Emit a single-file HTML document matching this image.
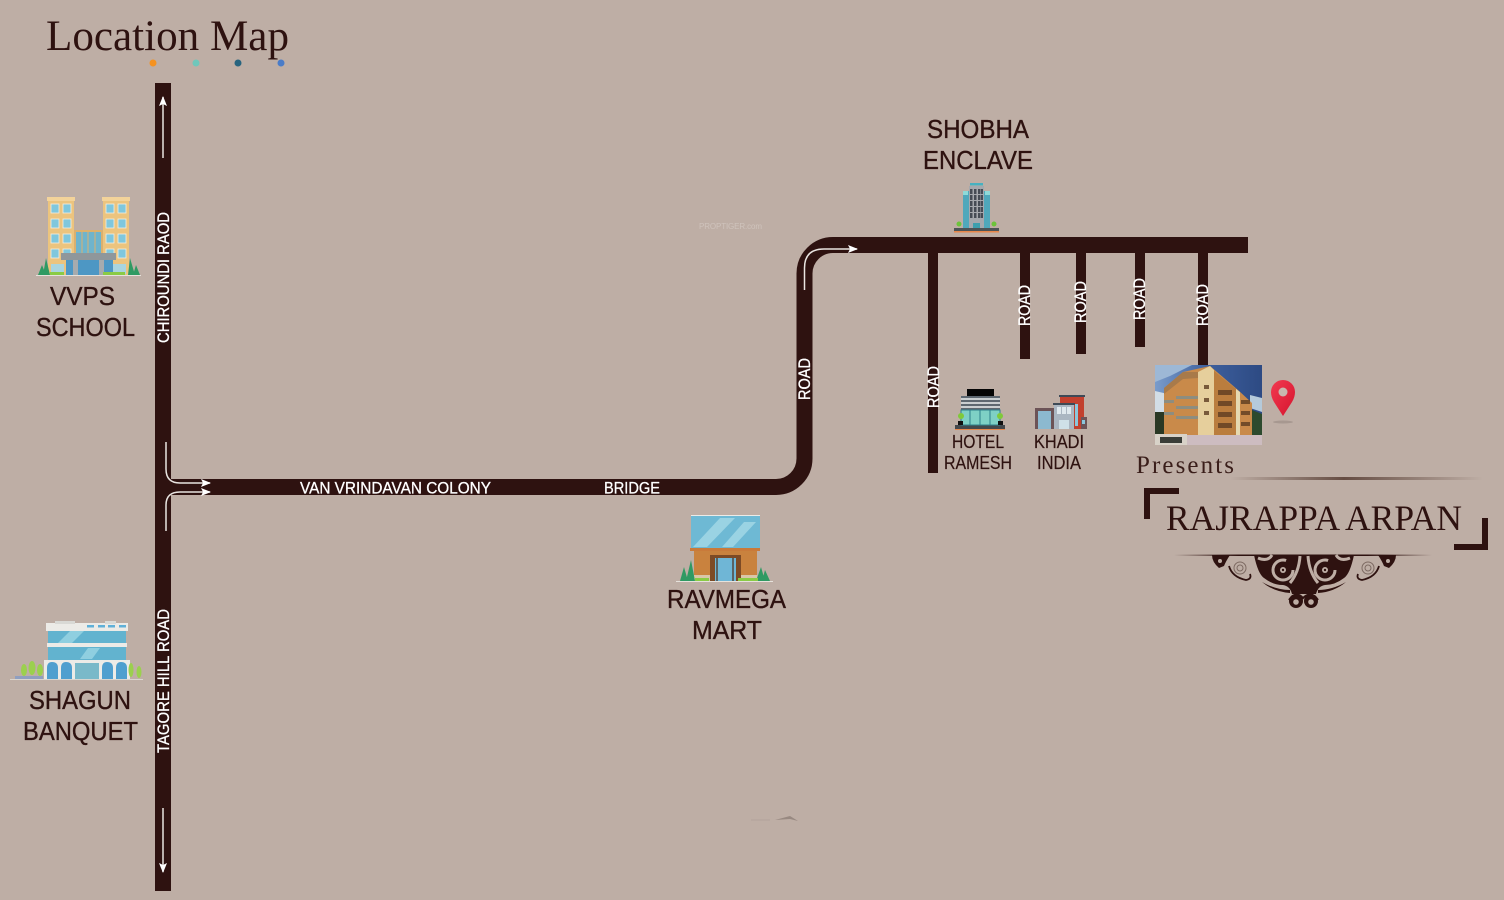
<!DOCTYPE html>
<html>
<head>
<meta charset="utf-8">
<title>Location Map</title>
<style>
html,body{margin:0;padding:0;background:#beaea5;}
svg{display:block;}
.l{font-family:"Liberation Sans",sans-serif;fill:#2e1210;stroke:#2e1210;stroke-width:.35px;}
.r{font-family:"Liberation Sans",sans-serif;fill:#fff;stroke:#fff;stroke-width:.3px;font-size:16.5px;}
.s{font-family:"Liberation Serif",serif;fill:#2e1210;}
</style>
</head>
<body>
<svg width="1504" height="900" viewBox="0 0 1504 900" xmlns="http://www.w3.org/2000/svg">
<defs>
<linearGradient id="fl" x1="0" x2="1" y1="0" y2="0">
<stop offset="0" stop-color="#5c4238" stop-opacity="0"/>
<stop offset=".45" stop-color="#5c4238" stop-opacity=".9"/>
<stop offset="1" stop-color="#5c4238" stop-opacity="0"/>
</linearGradient>
<linearGradient id="fd" x1="0" x2="1" y1="0" y2="0">
<stop offset="0" stop-color="#2e1210" stop-opacity="0"/>
<stop offset=".25" stop-color="#2e1210"/>
<stop offset=".75" stop-color="#2e1210"/>
<stop offset="1" stop-color="#2e1210" stop-opacity="0"/>
</linearGradient>
<linearGradient id="sky" x1="0" x2="1" y1="0" y2="0">
<stop offset="0" stop-color="#7a9ccb"/>
<stop offset=".5" stop-color="#3d5f9d"/>
<stop offset="1" stop-color="#2d4a83"/>
</linearGradient>
<linearGradient id="pin" x1="0" x2="1" y1="0" y2="1">
<stop offset="0" stop-color="#f23a50"/>
<stop offset="1" stop-color="#d5142e"/>
</linearGradient>
<marker id="ah" markerWidth="12" markerHeight="10" refX="9" refY="4" orient="auto" markerUnits="userSpaceOnUse"><path d="M0 0L10 4L0 8L2 4Z" fill="#fff"/></marker>
</defs>

<rect width="1504" height="900" fill="#beaea5"/>

<!-- Title -->
<text class="s" x="46" y="50" font-size="43" textLength="243" lengthAdjust="spacingAndGlyphs">Location Map</text>
<circle cx="153" cy="63" r="3.500" fill="#f59220"/>
<circle cx="196" cy="63" r="3.500" fill="#6fc7bb"/>
<circle cx="238" cy="63" r="3.500" fill="#27647f"/>
<circle cx="281" cy="63" r="3.500" fill="#4a7cc8"/>

<!-- Roads -->
<rect x="155" y="83" width="16" height="808" fill="#2e1210"/>
<path d="M165 487H776A28.500 28.500 0 0 0 804.500 458.500V273.500A28.500 28.500 0 0 1 833 245H1248" fill="none" stroke="#2e1210" stroke-width="16"/>
<rect x="928" y="250" width="10" height="223" fill="#2e1210"/>
<rect x="1020" y="250" width="10" height="109" fill="#2e1210"/>
<rect x="1076" y="250" width="10" height="104" fill="#2e1210"/>
<rect x="1135" y="250" width="10" height="97" fill="#2e1210"/>
<rect x="1198" y="250" width="10" height="115" fill="#2e1210"/>

<!-- Arrows -->
<g fill="none" stroke="#e9e4e0" stroke-width="1.500">
<path d="M163 158V97" marker-end="url(#ah)"/>
<path d="M163 808V872" marker-end="url(#ah)"/>
<path d="M166 442V469Q166 483 180 483H210" marker-end="url(#ah)"/>
<path d="M166 531V505Q166 492 180 492H210" marker-end="url(#ah)"/>
<path d="M804.500 290V268Q804.500 249 824 249H857" marker-end="url(#ah)"/>
</g>

<!-- Road labels -->
<text class="r" transform="translate(169 343) rotate(-90)" textLength="131" lengthAdjust="spacingAndGlyphs">CHIROUNDI RAOD</text>
<text class="r" transform="translate(169 753) rotate(-90)" textLength="144" lengthAdjust="spacingAndGlyphs">TAGORE HILL ROAD</text>
<text class="r" transform="translate(810 400) rotate(-90)" textLength="42" lengthAdjust="spacingAndGlyphs">ROAD</text>
<text class="r" transform="translate(939 408) rotate(-90)" textLength="42" lengthAdjust="spacingAndGlyphs">ROAD</text>
<text class="r" transform="translate(1030 326) rotate(-90)" textLength="41" lengthAdjust="spacingAndGlyphs">ROAD</text>
<text class="r" transform="translate(1086 323) rotate(-90)" textLength="42" lengthAdjust="spacingAndGlyphs">ROAD</text>
<text class="r" transform="translate(1145 320) rotate(-90)" textLength="42" lengthAdjust="spacingAndGlyphs">ROAD</text>
<text class="r" transform="translate(1208 326) rotate(-90)" textLength="42" lengthAdjust="spacingAndGlyphs">ROAD</text>
<text class="r" x="300" y="493.500" textLength="191" lengthAdjust="spacingAndGlyphs">VAN VRINDAVAN COLONY</text>
<text class="r" x="604" y="493.500" textLength="56" lengthAdjust="spacingAndGlyphs">BRIDGE</text>

<!-- Place labels -->
<text class="l" x="50" y="305" font-size="26" textLength="65" lengthAdjust="spacingAndGlyphs">VVPS</text>
<text class="l" x="36" y="336" font-size="26" textLength="99" lengthAdjust="spacingAndGlyphs">SCHOOL</text>
<text class="l" x="29" y="709" font-size="26" textLength="102" lengthAdjust="spacingAndGlyphs">SHAGUN</text>
<text class="l" x="23" y="740" font-size="26" textLength="115" lengthAdjust="spacingAndGlyphs">BANQUET</text>
<text class="l" x="667" y="608" font-size="26" textLength="119" lengthAdjust="spacingAndGlyphs">RAVMEGA</text>
<text class="l" x="692" y="639" font-size="26" textLength="70" lengthAdjust="spacingAndGlyphs">MART</text>
<text class="l" x="927" y="138" font-size="26" textLength="102" lengthAdjust="spacingAndGlyphs">SHOBHA</text>
<text class="l" x="923" y="169" font-size="26" textLength="110" lengthAdjust="spacingAndGlyphs">ENCLAVE</text>
<text class="l" x="952" y="448" font-size="18" style="stroke-width:.2px" textLength="52" lengthAdjust="spacingAndGlyphs">HOTEL</text>
<text class="l" x="944" y="469" font-size="18" style="stroke-width:.2px" textLength="68" lengthAdjust="spacingAndGlyphs">RAMESH</text>
<text class="l" x="1034" y="448" font-size="18" style="stroke-width:.2px" textLength="50" lengthAdjust="spacingAndGlyphs">KHADI</text>
<text class="l" x="1037" y="469" font-size="18" style="stroke-width:.2px" textLength="44" lengthAdjust="spacingAndGlyphs">INDIA</text>

<!-- VVPS building -->
<g>
<rect x="36" y="275" width="105" height="1" fill="#e6e2dc"/>
<rect x="48" y="200" width="26" height="75" fill="#ecc47e"/>
<rect x="103" y="200" width="26" height="75" fill="#ecc47e"/>
<rect x="47" y="197" width="28" height="4" fill="#f3d39a"/>
<rect x="102" y="197" width="28" height="4" fill="#f3d39a"/>
<rect x="74" y="230" width="29" height="45" fill="#dcb06e"/>
<rect x="76" y="232" width="25" height="22" fill="#6fb4cc"/>
<g fill="#7fc7dd" stroke="#f3eee0" stroke-width=".8">
<rect x="51" y="204" width="8" height="9"/><rect x="63" y="204" width="8" height="9"/>
<rect x="51" y="219" width="8" height="9"/><rect x="63" y="219" width="8" height="9"/>
<rect x="51" y="234" width="8" height="9"/><rect x="63" y="234" width="8" height="9"/>
<rect x="51" y="249" width="8" height="9"/><rect x="63" y="249" width="8" height="9"/>
<rect x="106" y="204" width="8" height="9"/><rect x="118" y="204" width="8" height="9"/>
<rect x="106" y="219" width="8" height="9"/><rect x="118" y="219" width="8" height="9"/>
<rect x="106" y="234" width="8" height="9"/><rect x="118" y="234" width="8" height="9"/>
<rect x="106" y="249" width="8" height="9"/><rect x="118" y="249" width="8" height="9"/>
</g>
<g stroke="#dcb06e" stroke-width="1"><path d="M82 232V254M88 232V254M95 232V254"/></g>
<rect x="51" y="264" width="13" height="10" fill="#a9d5df"/>
<rect x="113" y="264" width="13" height="10" fill="#a9d5df"/>
<rect x="61" y="253" width="55" height="7" fill="#8f979b"/>
<rect x="66" y="260" width="47" height="15" fill="#4d97c4"/>
<rect x="73" y="260" width="5" height="15" fill="#a6abae"/>
<rect x="99" y="260" width="5" height="15" fill="#a6abae"/>
<path d="M38 275L42 265L46 275ZM43 275L46 258L50 275ZM128 275L130 258L135 275ZM133 275L136 265L140 275Z" fill="#2f9a63"/>
<rect x="50" y="272" width="14" height="3" fill="#8acb45"/>
<rect x="103" y="272" width="22" height="3" fill="#8acb45"/>
</g>

<!-- Shagun building -->
<g>
<rect x="10" y="679" width="133" height="1" fill="#d9d5cf"/>
<rect x="46" y="623" width="82" height="8" fill="#ecebe7"/>
<rect x="55" y="621" width="20" height="3" fill="#d9d9d5"/>
<rect x="105" y="621" width="11" height="3" fill="#d9d9d5"/>
<g fill="#5fb0d8"><rect x="87" y="625" width="7" height="2.500"/><rect x="98" y="625" width="7" height="2.500"/><rect x="108" y="625" width="7" height="2.500"/><rect x="119" y="625" width="7" height="2.500"/></g>
<rect x="48" y="631" width="78" height="48" fill="#62b3cf"/>
<path d="M58 643L70 631H84L72 643ZM80 659L88 648H100L92 659Z" fill="#8fcfe0"/>
<rect x="47" y="643" width="80" height="4" fill="#ecebe7"/>
<rect x="44" y="660" width="86" height="19" fill="#ecebe7"/>
<g fill="#4f9fcf">
<path d="M47 679V668Q47 662 52 662Q58 662 58 668V679Z"/>
<path d="M61 679V668Q61 662 66 662Q72 662 72 668V679Z"/>
<rect x="75" y="663" width="24" height="16" fill="#7ab9c9"/>
<path d="M102 679V668Q102 662 107 662Q113 662 113 668V679Z"/>
<path d="M116 679V668Q116 662 121 662Q127 662 127 668V679Z"/>
</g>
<g fill="#9bd04e">
<ellipse cx="24" cy="670" rx="3" ry="6"/><ellipse cx="32" cy="668" rx="3.500" ry="7"/><ellipse cx="40" cy="670" rx="3" ry="6"/><ellipse cx="131" cy="670" rx="2.500" ry="7"/><ellipse cx="139" cy="672" rx="2.500" ry="6"/>
</g>
<rect x="15" y="676" width="28" height="3" fill="#8f9fc0"/>
</g>

<!-- Ravmega building -->
<g>
<rect x="676" y="581" width="97" height="1" fill="#e6e2dc"/>
<rect x="691" y="516" width="69" height="32" fill="#6eb9d4"/>
<rect x="691" y="515" width="69" height="1" fill="#ecebe7"/>
<path d="M693 547L720 518H735L707 547ZM722 547L744 522H756L733 547Z" fill="#9ad3e3"/>
<rect x="690" y="548" width="70" height="3" fill="#c97a3a"/>
<rect x="694" y="551" width="63" height="30" fill="#c9823e"/>
<rect x="710" y="555" width="31" height="26" fill="#7d4a25"/>
<rect x="715" y="558" width="21" height="23" fill="#6fb6d6"/>
<path d="M717 558V581M733 558V581" stroke="#4a2c1a" stroke-width="1.200"/>
<rect x="694" y="575" width="16" height="6" fill="#d9c6a8"/>
<rect x="741" y="575" width="16" height="6" fill="#d9c6a8"/>
<path d="M680 581L684 567L688 581ZM686 581L691 560L695 581ZM756 581L761 567L765 581ZM762 581L765 570L770 581Z" fill="#2f9a63"/>
<rect x="695" y="578" width="14" height="3" fill="#8acb45"/>
<rect x="738" y="578" width="20" height="3" fill="#8acb45"/>
</g>

<!-- Shobha tower -->
<g>
<rect x="954" y="228" width="45" height="3" fill="#4d5457"/>
<rect x="954" y="231" width="45" height="1.500" fill="#e8874a"/>
<rect x="963" y="191" width="27" height="37" fill="#4fa8bb"/>
<rect x="963" y="191" width="5" height="4" fill="#8edad8"/>
<rect x="985" y="191" width="5" height="4" fill="#8edad8"/>
<rect x="969" y="186" width="15" height="42" fill="#a5a8ad"/>
<rect x="970" y="183" width="13" height="2.500" fill="#46b1c1"/>
<g fill="#464c55"><rect x="970" y="189" width="2.500" height="29"/><rect x="974" y="189" width="2.500" height="29"/><rect x="978" y="189" width="2.500" height="29"/><rect x="981" y="189" width="2" height="29"/></g>
<g fill="#a5a8ad"><rect x="970" y="194" width="13" height="1"/><rect x="970" y="200" width="13" height="1"/><rect x="970" y="206" width="13" height="1"/><rect x="970" y="212" width="13" height="1"/></g>
<rect x="973" y="223" width="7" height="5" fill="#3d9fae"/>
<circle cx="959" cy="224" r="2.500" fill="#6cc43a"/>
<circle cx="994" cy="224" r="2.500" fill="#6cc43a"/>
</g>

<!-- Hotel -->
<g>
<rect x="955" y="425" width="50" height="4" fill="#43484c"/>
<rect x="955" y="429" width="50" height="1" fill="#e8874a"/>
<rect x="967" y="389" width="27" height="7" fill="#050505"/>
<rect x="961" y="396" width="39" height="14" fill="#5d6770"/>
<g fill="#c9ced0"><rect x="961" y="398" width="39" height="2"/><rect x="961" y="402" width="39" height="2"/><rect x="961" y="406" width="39" height="2"/></g>
<rect x="961" y="410" width="39" height="15" fill="#7ed0c5" stroke="#2f7f8c"/>
<path d="M970 410V425M980 410V425M990 410V425" stroke="#2f7f8c"/>
<rect x="958" y="421" width="5" height="4" fill="#111"/><rect x="998" y="421" width="5" height="4" fill="#111"/>
<circle cx="961" cy="416" r="3" fill="#7fc93a"/><circle cx="1000" cy="416" r="3" fill="#7fc93a"/>
</g>

<!-- Khadi -->
<g>
<rect x="1035" y="408" width="19" height="21" fill="#6c5357"/>
<rect x="1038" y="411" width="13" height="18" fill="#8cb9d0"/>
<rect x="1060" y="396" width="24" height="33" fill="#c2402e"/>
<rect x="1059" y="395" width="26" height="2" fill="#3e4a57"/>
<rect x="1075" y="404" width="3" height="22" fill="#8cc6dc"/>
<rect x="1054" y="405" width="20" height="24" fill="#aab6c2"/>
<rect x="1053" y="403" width="22" height="2" fill="#3e4a57"/>
<g fill="#dfe8ee"><rect x="1057" y="407" width="4" height="7"/><rect x="1062" y="407" width="4" height="7"/><rect x="1067" y="407" width="4" height="7"/></g>
<rect x="1059" y="420" width="10" height="9" fill="#cfe0e8"/>
<rect x="1081" y="417" width="6" height="12" fill="#6c5357"/>
<rect x="1082" y="420" width="3" height="4" fill="#8cc6dc"/>
</g>

<!-- Photo -->
<g>
<rect x="1155" y="365" width="107" height="80" fill="url(#sky)"/>
<path d="M1155 365H1192L1170 376L1155 382Z" fill="#9db8d6"/>
<path d="M1155 391L1168 394V420H1155Z" fill="#d2dde6"/>
<path d="M1250 395L1262 398V412L1250 408Z" fill="#b5cadb"/>
<path d="M1155 412L1166 412L1166 440H1155Z" fill="#2a3824"/>
<path d="M1248 430L1252 410L1262 414V439H1248Z" fill="#2d4a2e"/>
<path d="M1164 388L1183 372L1210 366L1238 390L1252 403L1252 436H1164Z" fill="#c98a4a"/>
<path d="M1198 372L1210 366L1214 370V436H1198Z" fill="#e6cf9c"/>
<path d="M1236 389L1240 392V436H1236Z" fill="#e6d9b0"/>
<path d="M1214 371L1236 389V436H1214Z" fill="#ba7d3e"/>
<path d="M1164 388L1183 372L1198 372V378L1183 379L1164 394Z" fill="#a87a4a"/>
<g fill="#8d8d80"><rect x="1176" y="396" width="22" height="3"/><rect x="1176" y="406" width="22" height="3"/><rect x="1176" y="416" width="22" height="3"/><rect x="1164" y="400" width="10" height="3"/><rect x="1164" y="412" width="10" height="3"/></g>
<g fill="#5e3d22" opacity=".8"><rect x="1218" y="390" width="14" height="5"/><rect x="1218" y="401" width="14" height="5"/><rect x="1218" y="412" width="14" height="5"/><rect x="1218" y="423" width="14" height="5"/><rect x="1241" y="400" width="9" height="4"/><rect x="1241" y="411" width="9" height="4"/><rect x="1241" y="422" width="9" height="4"/><rect x="1204" y="385" width="5" height="4"/><rect x="1204" y="398" width="5" height="4"/><rect x="1204" y="411" width="5" height="4"/></g>
<rect x="1155" y="435" width="107" height="10" fill="#cdbcc0"/>
<rect x="1155" y="434" width="32" height="11" fill="#d8d2c8"/>
<rect x="1160" y="437" width="22" height="6" fill="#3a3d38"/>
</g>

<!-- Pin -->
<ellipse cx="1283" cy="422" rx="10" ry="1.500" fill="#9d8f88" opacity=".7"/>
<path d="M1283 416L1274 402Q1271 397 1271 392A12 12 0 0 1 1295 392Q1295 397 1292 402Z" fill="url(#pin)"/>
<circle cx="1283" cy="392" r="4.500" fill="#c8b8ae"/>

<!-- Presents -->
<text class="s" x="1136" y="473" font-size="25" textLength="98" style="fill:#3a1e1a">Presents</text>
<rect x="1230" y="477" width="253" height="3" fill="url(#fl)"/>
<path d="M1144 519V488H1179V494H1150V519Z" fill="#2e1210"/>
<path d="M1488 518V550H1454V544H1482V518Z" fill="#2e1210"/>
<text class="s" x="1166" y="530" font-size="36" textLength="296" lengthAdjust="spacingAndGlyphs">RAJRAPPA ARPAN</text>

<!-- Ornament -->
<rect x="1174" y="554.500" width="258" height="1.500" fill="url(#fd)"/>
<g id="orn">
<path d="M1212 555H1230Q1226 561 1224 566L1219 568Q1212 562 1212 555Z" fill="#2e1210"/>
<path d="M1396 555H1378Q1382 561 1384 566L1389 568Q1396 562 1396 555Z" fill="#2e1210"/>
<circle cx="1220" cy="561" r="2" fill="#beaea5"/><circle cx="1388" cy="561" r="2" fill="#beaea5"/>
<path d="M1254 555H1354Q1350 574 1344 578Q1335 585 1325 585Q1318 586 1316 594L1292 594Q1290 586 1283 585Q1273 585 1264 578Q1258 574 1254 555Z" fill="#2e1210"/>
<path d="M1262 582Q1276 590 1290 590L1290 593Q1274 592 1262 582ZM1346 582Q1332 590 1318 590L1318 593Q1334 592 1346 582Z" fill="#2e1210"/>
<g fill="none" stroke="#beaea5" stroke-width="3">
<path d="M1258 558Q1268 562 1272 555"/>
<path d="M1350 558Q1340 562 1336 555"/>
<circle cx="1283" cy="570" r="10" stroke-dasharray="50 13"/>
<circle cx="1325" cy="570" r="10" stroke-dasharray="50 13"/>
<path d="M1300 556Q1299 572 1290 583"/>
<path d="M1308 556Q1309 572 1318 583"/>
</g>
<circle cx="1283" cy="570" r="6.500" fill="#2e1210"/><circle cx="1325" cy="570" r="6.500" fill="#2e1210"/>
<circle cx="1283" cy="570" r="3" fill="#beaea5"/><circle cx="1325" cy="570" r="3" fill="#beaea5"/>
<circle cx="1283" cy="570" r="1.200" fill="#2e1210"/><circle cx="1325" cy="570" r="1.200" fill="#2e1210"/>
<g fill="none" stroke="#2e1210" stroke-width="1.800">
<path d="M1229 566Q1232 577 1246 580Q1252 579 1250 574"/>
<path d="M1379 566Q1376 577 1362 580Q1356 579 1358 574"/>
</g>
<g fill="none" stroke="#7d6a62" stroke-width="1"><circle cx="1240" cy="568" r="6"/><circle cx="1240" cy="568" r="3"/><circle cx="1368" cy="568" r="6"/><circle cx="1368" cy="568" r="3"/></g>
<circle cx="1296" cy="601" r="7" fill="#2e1210"/><circle cx="1311" cy="601" r="7" fill="#2e1210"/>
<path d="M1289 600Q1296 590 1303 598Q1311 590 1318 600" fill="none" stroke="#2e1210" stroke-width="2"/>
<circle cx="1296" cy="602" r="2.800" fill="#beaea5"/><circle cx="1311" cy="602" r="2.800" fill="#beaea5"/>
</g>

<!-- Watermarks -->
<text x="699" y="229" font-family="Liberation Sans, sans-serif" font-size="8" fill="#cfc3bc" textLength="63">PROPTIGER.com</text>
<path d="M775 820L790 816L798 821L790 819Z" fill="#8f8078" opacity=".8"/>
<path d="M751 820H770" stroke="#aa9b93" stroke-width="1" opacity=".6"/>
</svg>
</body>
</html>
